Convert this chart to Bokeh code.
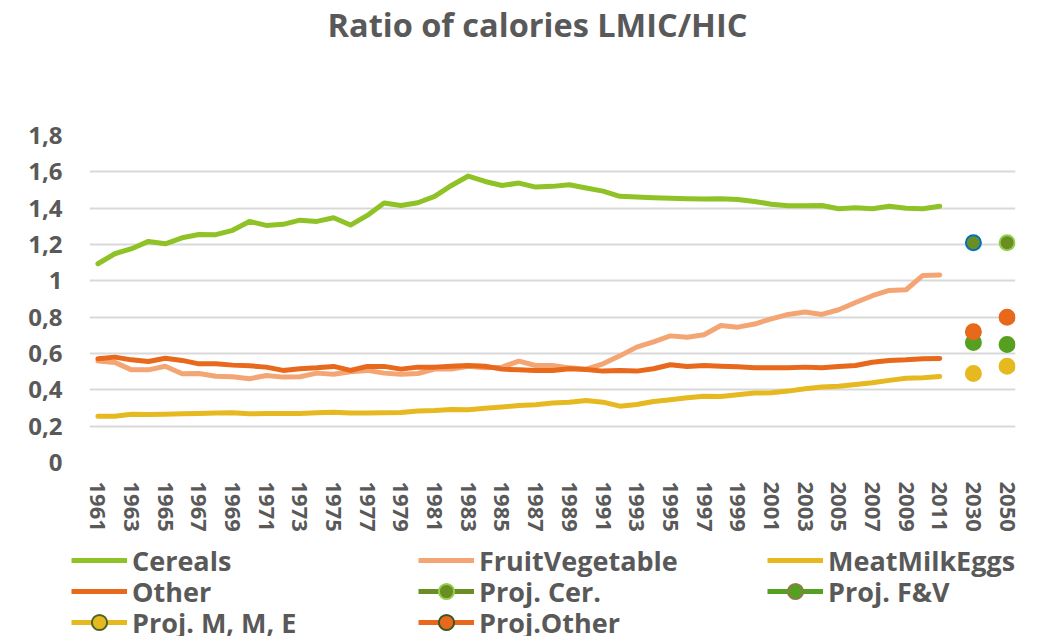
import numpy as np
from bokeh.plotting import figure
from bokeh.layouts import column
from bokeh.models import (ColumnDataSource, Range1d, FixedTicker, Legend,
                          LegendItem, Label)
from bokeh.embed import file_html
from bokeh.resources import INLINE

# ---------------- data ----------------
title_text = "Ratio of calories LMIC/HIC"
years = list(range(1961, 2012))
proj_labels = ["2030", "2050"]
categories = [str(y) for y in years] + ["", "2030", " ", "2050"]

cereals = [1.094, 1.149, 1.177, 1.217, 1.204, 1.237, 1.255, 1.254, 1.278, 1.327,
           1.305, 1.311, 1.334, 1.327, 1.347, 1.307, 1.360, 1.428, 1.415, 1.430,
           1.465, 1.525, 1.577, 1.547, 1.525, 1.538, 1.516, 1.520, 1.529, 1.511,
           1.494, 1.465, 1.461, 1.457, 1.454, 1.452, 1.450, 1.452, 1.448, 1.437,
           1.422, 1.413, 1.413, 1.415, 1.397, 1.402, 1.397, 1.411, 1.399, 1.397,
           1.411]
fruit_vegetable = [0.558, 0.551, 0.510, 0.510, 0.530, 0.488, 0.490, 0.475, 0.472, 0.461,
                   0.479, 0.470, 0.472, 0.492, 0.486, 0.499, 0.507, 0.492, 0.486, 0.490,
                   0.514, 0.514, 0.530, 0.521, 0.525, 0.558, 0.534, 0.534, 0.521, 0.514,
                   0.543, 0.587, 0.635, 0.664, 0.697, 0.690, 0.703, 0.754, 0.745, 0.762,
                   0.791, 0.815, 0.828, 0.815, 0.841, 0.881, 0.918, 0.947, 0.951, 1.030,
                   1.032]
meat_milk_eggs = [0.255, 0.255, 0.266, 0.264, 0.266, 0.268, 0.270, 0.272, 0.274, 0.268,
                  0.270, 0.270, 0.270, 0.274, 0.277, 0.272, 0.272, 0.274, 0.275, 0.283,
                  0.286, 0.292, 0.290, 0.299, 0.306, 0.314, 0.318, 0.327, 0.332, 0.341,
                  0.332, 0.310, 0.319, 0.336, 0.345, 0.356, 0.365, 0.363, 0.373, 0.382,
                  0.384, 0.393, 0.406, 0.415, 0.420, 0.429, 0.439, 0.452, 0.464, 0.466,
                  0.474]
other = [0.571, 0.580, 0.565, 0.556, 0.574, 0.562, 0.543, 0.543, 0.536, 0.532,
         0.525, 0.507, 0.516, 0.521, 0.529, 0.507, 0.529, 0.529, 0.514, 0.525,
         0.525, 0.530, 0.534, 0.530, 0.514, 0.510, 0.507, 0.507, 0.516, 0.512,
         0.503, 0.507, 0.503, 0.516, 0.538, 0.529, 0.534, 0.530, 0.527, 0.521,
         0.521, 0.521, 0.525, 0.521, 0.529, 0.534, 0.552, 0.562, 0.565, 0.571,
         0.573]
proj_cer = [1.21, 1.21]
proj_fv = [0.66, 0.65]
proj_mme = [0.49, 0.53]
proj_other = [0.72, 0.80]

y_ticks = [0, 0.2, 0.4, 0.6, 0.8, 1.0, 1.2, 1.4, 1.6, 1.8]
y_tick_labels = ["0", "0,2", "0,4", "0,6", "0,8", "1", "1,2", "1,4", "1,6", "1,8"]

# ---------------- style ----------------
FONT = "Open Sans"
TXT = "#595959"
C_CER = "#8fc226"
C_FV = "#f4a574"
C_MME = "#e6b920"
C_OTH = "#e8681c"
C_PCER = "#6a8e22"
C_PFV = "#55a021"

W = 1038
H_TITLE, H_MAIN, H_LEG = 70, 470, 96


def bare_fig(h):
    f = figure(width=W, height=h, output_backend="svg", toolbar_location=None,
               x_range=Range1d(0, W), y_range=Range1d(0, h),
               x_axis_type=None, y_axis_type=None, frame_align=False,
               min_border=0, min_border_left=0, min_border_right=0,
               min_border_top=0, min_border_bottom=0)
    f.outline_line_color = None
    f.xgrid.visible = False
    f.ygrid.visible = False
    return f


# ---------------- title ----------------
pt = bare_fig(H_TITLE)
pt.add_layout(Label(x=537, y=H_TITLE - 24, x_units="screen", y_units="screen",
                    text=title_text, text_align="center", text_baseline="alphabetic",
                    text_font=FONT, text_font_style="bold", text_font_size="32.5px",
                    text_color=TXT))

# ---------------- main chart ----------------
p = figure(width=W, height=H_MAIN, output_backend="svg", toolbar_location=None,
           x_range=Range1d(-0.5, len(categories) - 0.5), y_range=Range1d(0, 1.8),
           min_border_left=89, min_border_right=23, min_border_top=65,
           min_border_bottom=78, frame_align=False)
p.outline_line_color = None

p.xgrid.visible = False
p.ygrid.grid_line_color = "#d9d9d9"
p.ygrid.grid_line_width = 2
p.ygrid.ticker = FixedTicker(ticks=y_ticks)

p.yaxis.ticker = FixedTicker(ticks=y_ticks)
p.yaxis.major_label_overrides = {t: l for t, l in zip(y_ticks, y_tick_labels)}
x_idx = list(range(len(categories)))
x_ticks = x_idx[::2]
p.xaxis.ticker = FixedTicker(ticks=x_ticks)
p.xaxis.major_label_overrides = {i: categories[i] for i in x_ticks}
p.xaxis.major_label_orientation = "vertical"
for ax in (p.xaxis, p.yaxis):
    ax.axis_line_color = None
    ax.major_tick_line_color = None
    ax.minor_tick_line_color = None
    ax.major_tick_out = 0
    ax.major_tick_in = 0
    ax.major_label_text_font = FONT
    ax.major_label_text_font_style = "bold"
    ax.major_label_text_color = TXT
p.yaxis.major_label_text_font_size = "24px"
p.yaxis.major_label_standoff = 27
p.xaxis.major_label_text_font_size = "22px"
p.xaxis.major_label_standoff = 19

hx = [categories.index(str(y)) for y in years]
for vals, col in [(cereals, C_CER), (fruit_vegetable, C_FV),
                  (meat_milk_eggs, C_MME), (other, C_OTH)]:
    p.line(hx, vals, line_width=5, color=col, line_join="round", line_cap="round")

# projections: 2030 and 2050 separated by an empty category -> no connecting segment
px = [categories.index(l) for l in proj_labels]
gap_x = [px[0], px[0] + 1, px[1]]
for vals, col, fill, edges in [
        (proj_cer, C_PCER, C_PCER, ["#0070c0", "#92d050"]),
        (proj_fv, C_PFV, C_PFV, [C_PFV, C_PFV]),
        (proj_mme, C_MME, C_MME, [C_MME, C_MME]),
        (proj_other, C_OTH, C_OTH, [C_OTH, C_OTH])]:
    p.line(gap_x, [vals[0], np.nan, vals[1]], line_width=5, color=col)
    src = ColumnDataSource(dict(x=px, y=vals, lc=edges))
    p.scatter("x", "y", source=src, size=15, fill_color=fill, line_color="lc",
              line_width=2)

# ---------------- legend (key glyphs only, nothing plotted) ----------------
pl = bare_fig(H_LEG)
NAN = [np.nan]


def key_line(col):
    return [pl.line(NAN, NAN, line_width=5, color=col)]


def key_proj(col, fill, edge):
    return [pl.line(NAN, NAN, line_width=5, color=col),
            pl.scatter(NAN, NAN, size=14, fill_color=fill, line_color=edge,
                       line_width=2)]


col_x = [71, 418, 767]
row_c = [20, 51, 82]          # row centres, px from top of legend strip
ITEM_H = 38
legend_entries = [
    ("Cereals", key_line(C_CER), 0, 0),
    ("FruitVegetable", key_line(C_FV), 1, 0),
    ("MeatMilkEggs", key_line(C_MME), 2, 0),
    ("Other", key_line(C_OTH), 0, 1),
    ("Proj. Cer.", key_proj(C_PCER, C_PCER, "#92d050"), 1, 1),
    ("Proj. F&V", key_proj(C_PFV, C_PFV, "#8c7c4c"), 2, 1),
    ("Proj. M, M, E", key_proj(C_MME, C_MME, "#4f6228"), 0, 2),
    ("Proj.Other", key_proj(C_OTH, C_OTH, "#385723"), 1, 2),
]
for label, rends, ci, ri in legend_entries:
    lg = Legend(items=[LegendItem(label=label, renderers=rends)],
                location=(col_x[ci], H_LEG - row_c[ri] - ITEM_H // 2),
                orientation="vertical",
                glyph_width=56, glyph_height=ITEM_H, label_height=ITEM_H, spacing=0,
                padding=0, margin=0, label_standoff=5,
                border_line_color=None, background_fill_alpha=0,
                label_text_font=FONT, label_text_font_style="bold",
                label_text_font_size="27px", label_text_color=TXT)
    pl.add_layout(lg, "center")

layout = column(pt, p, pl, spacing=0)
open("out.html", "w").write(file_html(layout, INLINE))
